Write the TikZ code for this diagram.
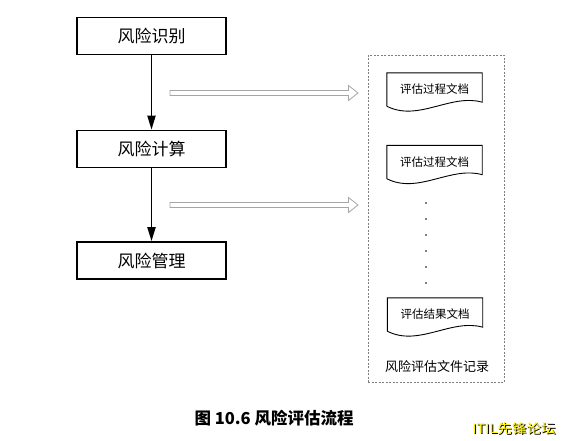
\documentclass[tikz,border=0pt]{standalone}
\usepackage{fontspec}
\newfontfamily\cjk{Noto Sans CJK SC}
\usetikzlibrary{arrows.meta,calc,positioning}

% document frame with a wavy lower edge, drawn round a named node
\newcommand{\docframe}[1]{%
  \draw[docline] (#1.south west) -- (#1.north west) -- (#1.north east)
    -- ($(#1.south east)+(0,-4)$)
    .. controls ($(#1.south)+(16.5,-13)$) and ($(#1.south)+(-16.5,16)$)
    .. (#1.south west);}

\begin{document}
\begin{tikzpicture}[
  x=1pt,y=-1pt,
  font=\cjk,
  phase/.style={draw,line width=1.6pt,minimum width=149pt,minimum height=37pt,
    inner sep=0pt,font=\cjk\fontsize{17}{20}\selectfont},
  flow/.style={line width=1.8pt,-{Triangle[length=14pt,width=8pt]}},
  hollow/.style={draw=gray!70,line width=0.8pt,fill=white},
  doc/.style={minimum width=95pt,minimum height=33pt,inner sep=0pt,
    font=\cjk\fontsize{11.5}{13}\selectfont},
  docline/.style={line width=0.9pt},
  recbox/.style={draw=gray,dash pattern=on 2pt off 1.5pt,line width=0.7pt,
    minimum width=136pt,minimum height=327pt,inner sep=0pt}
]
  \fill[white] (0,0) rectangle (561,440);
  \useasboundingbox (0,0) rectangle (561,440);

  % Steps of the assessment
  \node[phase] (ident) at (151.5,36) {风险识别};
  \node[phase] (calc) at (151.5,149) {风险计算};
  \node[phase] (manage) at (151.5,260.5) {风险管理};

  \draw[flow] (ident) -- (calc);
  \draw[flow] (calc) -- (manage);

  % Record container
  \node[recbox] (rec) at (436,218.5) {};
  \node[font=\cjk\fontsize{13}{15}\selectfont] (reclabel) at (437,367)
    {风险评估文件记录};

  % Hollow arrows into the records
  \coordinate (h1s) at (170,93);
  \coordinate (h1e) at (358,93);
  \coordinate (h2s) at (170,205);
  \coordinate (h2e) at (358,205);
  \foreach \s/\e in {h1s/h1e,h2s/h2e}{
    \draw[hollow] ($(\s)+(0,-2.5)$) -- ($(\e)+(-9.5,-2.5)$)
      -- ($(\e)+(-9.5,-7.5)$) -- (\e) -- ($(\e)+(-9.5,7.5)$)
      -- ($(\e)+(-9.5,2.5)$) -- ($(\s)+(0,2.5)$) -- cycle;
  }

  % Documents
  \node[doc] (doc1) at (434.5,89.5) {评估过程文档};
  \node[doc] (doc2) at (434.5,162) {评估过程文档};
  \node[doc] (doc3) at (435,314.5) {评估结果文档};
  \docframe{doc1}
  \docframe{doc2}
  \docframe{doc3}

  % Vertical ellipsis
  \foreach \i in {0,...,5}
    \fill (426,203+16*\i) circle (0.9pt);

  % Caption
  \node[font=\cjk\bfseries\fontsize{16.5}{18}\selectfont] (caption) at (274,418)
    {图 10.6 风险评估流程};

  % Watermark
  \node[font=\cjk\fontsize{13}{15}\selectfont,text=black] (markshadow)
    at (515,430) {\scalebox{1.12}[1]{ITIL先锋论坛}};
  \node[font=\cjk\fontsize{13}{15}\selectfont,text=yellow] (mark)
    at (514,429) {\scalebox{1.12}[1]{ITIL先锋论坛}};
\end{tikzpicture}
\end{document}
